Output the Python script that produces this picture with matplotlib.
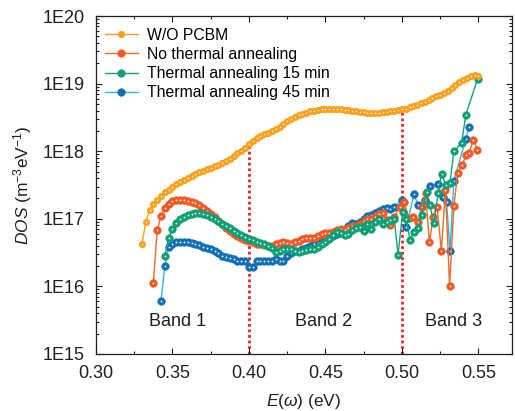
import numpy as np
import matplotlib
matplotlib.use('Agg')
import matplotlib.pyplot as plt
from matplotlib.ticker import FixedLocator, LogLocator, NullFormatter, FuncFormatter

plt.rcParams['font.family'] = ['Liberation Sans', 'DejaVu Sans']
plt.rcParams['mathtext.fontset'] = 'custom'
plt.rcParams['mathtext.rm'] = 'Liberation Sans'
plt.rcParams['mathtext.it'] = 'Liberation Sans:italic'

step = 0.0025

# W/O PCBM, log10(DOS) on a regular grid starting at 0.330 eV
orange_start = 0.330
orange_log = [16.62, 16.95, 17.13, 17.22, 17.28, 17.34, 17.39, 17.43, 17.47, 17.51,
              17.55, 17.58, 17.61, 17.64, 17.66, 17.69, 17.71, 17.73, 17.75, 17.78,
              17.80, 17.83, 17.86, 17.89, 17.93, 17.97, 18.01, 18.05, 18.10, 18.15,
              18.19, 18.22, 18.25, 18.27, 18.30, 18.33, 18.36, 18.40, 18.44, 18.47,
              18.50, 18.53, 18.55, 18.57, 18.59, 18.60, 18.61, 18.62, 18.62, 18.62,
              18.62, 18.62, 18.62, 18.61, 18.61, 18.60, 18.59, 18.58, 18.58, 18.57,
              18.57, 18.57, 18.57, 18.58, 18.58, 18.59, 18.60, 18.61, 18.62, 18.63,
              18.65, 18.67, 18.69, 18.71, 18.73, 18.76, 18.78, 18.81, 18.83, 18.86,
              18.89, 18.93, 18.98, 19.02, 19.05, 19.08, 19.11, 19.13, 19.12]

# No thermal annealing
red_start = 0.3375
red_log = [16.05, 16.83, 17.04, 17.16, 17.22, 17.26, 17.28, 17.28, 17.28, 17.27,
           17.25, 17.23, 17.20, 17.16, 17.12, 17.07, 17.02, 16.97, 16.92, 16.87,
           16.82, 16.78, 16.75, 16.72, 16.69, 16.67, 16.65, 16.63, 16.62, 16.61,
           16.60, 16.60, 16.62, 16.64, 16.65, 16.64, 16.63, 16.65, 16.67, 16.70,
           16.71, 16.71, 16.72, 16.74, 16.78, 16.79, 16.79, 16.80, 16.83, 16.85,
           16.84, 16.87, 16.90, 16.90, 16.93, 16.97, 17.00, 16.99, 17.03, 17.07,
           17.08, 16.98, 16.91, 17.02]
red_tail_e = [0.4985, 0.5015, 0.5045, 0.5075, 0.5105, 0.5130, 0.5155, 0.5180, 0.5205,
              0.5230, 0.5258, 0.5285, 0.5312, 0.5340, 0.5365, 0.5395, 0.5420, 0.5440,
              0.5468, 0.5493]
red_tail_log = [17.18, 17.25, 17.01, 17.03, 16.95, 17.18, 17.38, 16.65, 17.02,
                17.18, 16.53, 17.42, 16.01, 17.19, 17.68, 17.80, 17.95, 17.98,
                18.17, 18.02]

# Thermal annealing 15 min
green_start = 0.345
green_log = [16.45, 16.72, 16.85, 16.94, 16.99, 17.03, 17.05, 17.07, 17.08, 17.08,
             17.07, 17.05, 17.03, 17.00, 16.97, 16.93, 16.90, 16.86, 16.82, 16.79,
             16.76, 16.73, 16.70, 16.68, 16.66, 16.64, 16.62, 16.60, 16.57, 16.51,
             16.52, 16.55, 16.56, 16.55, 16.52, 16.51, 16.52, 16.54, 16.55, 16.56,
             16.59, 16.62, 16.66, 16.70, 16.76, 16.81, 16.79, 16.76, 16.78, 16.84,
             16.86, 16.88, 16.82, 16.93, 16.85, 16.95, 17.00, 16.93, 16.96, 16.98,
             17.00]
green_tail_e = [0.4975, 0.5005, 0.5030, 0.5052, 0.5080, 0.5107, 0.5129, 0.5161, 0.5183,
                0.5209, 0.5237, 0.5259, 0.5287, 0.5314, 0.5340, 0.5390, 0.5418, 0.5495]
green_tail_log = [16.47, 17.10, 17.00, 16.69, 16.80, 16.87, 17.06, 17.40, 17.20,
                  16.94, 17.38, 17.67, 17.50, 17.53, 18.00, 18.12, 18.54, 19.07]

# Thermal annealing 45 min
blue_start = 0.3425
blue_log = [15.79, 16.30, 16.58, 16.63, 16.65, 16.66, 16.66, 16.65, 16.64, 16.63,
            16.61, 16.59, 16.57, 16.55, 16.52, 16.49, 16.45, 16.43, 16.42, 16.40,
            16.38, 16.37, 16.37, 16.28, 16.29, 16.38, 16.38, 16.38, 16.38, 16.38,
            16.40, 16.37, 16.37, 16.45, 16.50, 16.52, 16.53, 16.55, 16.57, 16.60,
            16.62, 16.64, 16.67, 16.70, 16.72, 16.74, 16.77, 16.80, 16.84, 16.90,
            16.94, 16.92, 16.95, 17.00, 17.04, 17.06, 17.08, 17.12, 17.14, 17.16,
            17.15, 17.18]
blue_tail_e = [0.4998, 0.5030, 0.5078, 0.5107, 0.5150, 0.5183, 0.5237, 0.5266, 0.5292,
               0.5314, 0.5340, 0.5418, 0.5440]
blue_tail_log = [17.28, 16.88, 17.36, 17.20, 17.28, 17.49, 17.51, 17.32, 17.25,
                 16.52, 17.56, 18.18, 18.36]

band_edges = [0.40, 0.50]
band_labels = ['Band 1', 'Band 2', 'Band 3']
band_label_e = [0.3535, 0.4485, 0.5335]
labels = ['W/O PCBM', 'No thermal annealing', 'Thermal annealing 15 min',
          'Thermal annealing 45 min']


def series(start, logs, tail_e=(), tail_log=()):
    e = start + step * np.arange(len(logs))
    e = np.concatenate([e, np.array(tail_e, dtype=float)])
    d = 10 ** np.concatenate([np.array(logs, dtype=float), np.array(tail_log, dtype=float)])
    return e, d


fig = plt.figure(figsize=(5.15, 4.11), dpi=100)
ax = fig.add_axes([0.1864, 0.1387, 0.8078, 0.8223])

specs = [
    (series(orange_start, orange_log), '#f9a11b', '#f9a11b', 4.6, labels[0], 5),
    (series(red_start, red_log, red_tail_e, red_tail_log), '#f05a22', '#f26a2a', 5.4, labels[1], 3),
    (series(green_start, green_log, green_tail_e, green_tail_log), '#0f9f74', '#14a37a', 5.4, labels[2], 4),
    (series(blue_start, blue_log, blue_tail_e, blue_tail_log), '#1170b5', '#33b4e8', 5.4, labels[3], 2),
]

handles = []
for (e, d), mc, lc, ms, lab, z in specs:
    h, = ax.plot(e, d, '-', color=lc, lw=1.0, marker='o', ms=ms, mfc=mc, mec=mc,
                 mew=0.5, label=lab, zorder=z)
    ax.plot(e, d, 'o', ms=ms * 0.25, mfc='white', mec='none', alpha=0.9, zorder=z + 0.1)
    handles.append(h)

# dotted band separators up to the W/O PCBM curve
oe, od = series(orange_start, orange_log)
for edge in band_edges:
    top = 10 ** np.interp(edge, oe, np.log10(od))
    ax.vlines(edge, 1e15, top, colors='#e8242c', linestyles=(0, (1, 1)), lw=2.0, zorder=1)

for lab, xe in zip(band_labels, band_label_e):
    ax.text(xe, 10 ** 15.48, lab, ha='center', va='center', fontsize=13, color='#231f20')

ax.set_yscale('log')
ax.set_xlim(0.30, 0.572)
ax.set_ylim(1e15, 1e20)
ax.xaxis.set_major_locator(FixedLocator([0.30, 0.35, 0.40, 0.45, 0.50, 0.55]))
ax.xaxis.set_minor_locator(FixedLocator([0.325, 0.375, 0.425, 0.475, 0.525]))
ax.xaxis.set_major_formatter(FuncFormatter(lambda v, p: '%.2f' % v))
ax.yaxis.set_major_locator(LogLocator(base=10, numticks=10))
ax.yaxis.set_minor_locator(LogLocator(base=10, subs=np.arange(2, 10), numticks=20))
ax.yaxis.set_minor_formatter(NullFormatter())
ax.yaxis.set_major_formatter(FuncFormatter(lambda v, p: '1E%d' % round(np.log10(v))))
ax.tick_params(which='both', direction='in', top=True, right=True, labelsize=13,
               colors='#231f20', width=0.8)
ax.tick_params(which='major', length=4.5)
ax.tick_params(axis='x', which='major', pad=8)
ax.tick_params(axis='y', which='major', pad=8)
ax.tick_params(which='minor', length=2.5)
for s in ax.spines.values():
    s.set_linewidth(0.9)
    s.set_color('#231f20')

ax.set_xlabel(r'$E(\omega)$ (eV)', fontsize=12.5, color='#231f20', labelpad=7)
ax.set_ylabel(r'$DOS$ (m$^{-3}$eV$^{-1}$)', fontsize=12.5, color='#231f20', labelpad=6)

ax.legend(handles=handles, loc='upper left', frameon=False, fontsize=11.3,
          handlelength=2.1, handletextpad=0.6, labelspacing=0.27,
          bbox_to_anchor=(-0.005, 0.998), borderaxespad=0.3)

fig.savefig('out.png', dpi=100)
